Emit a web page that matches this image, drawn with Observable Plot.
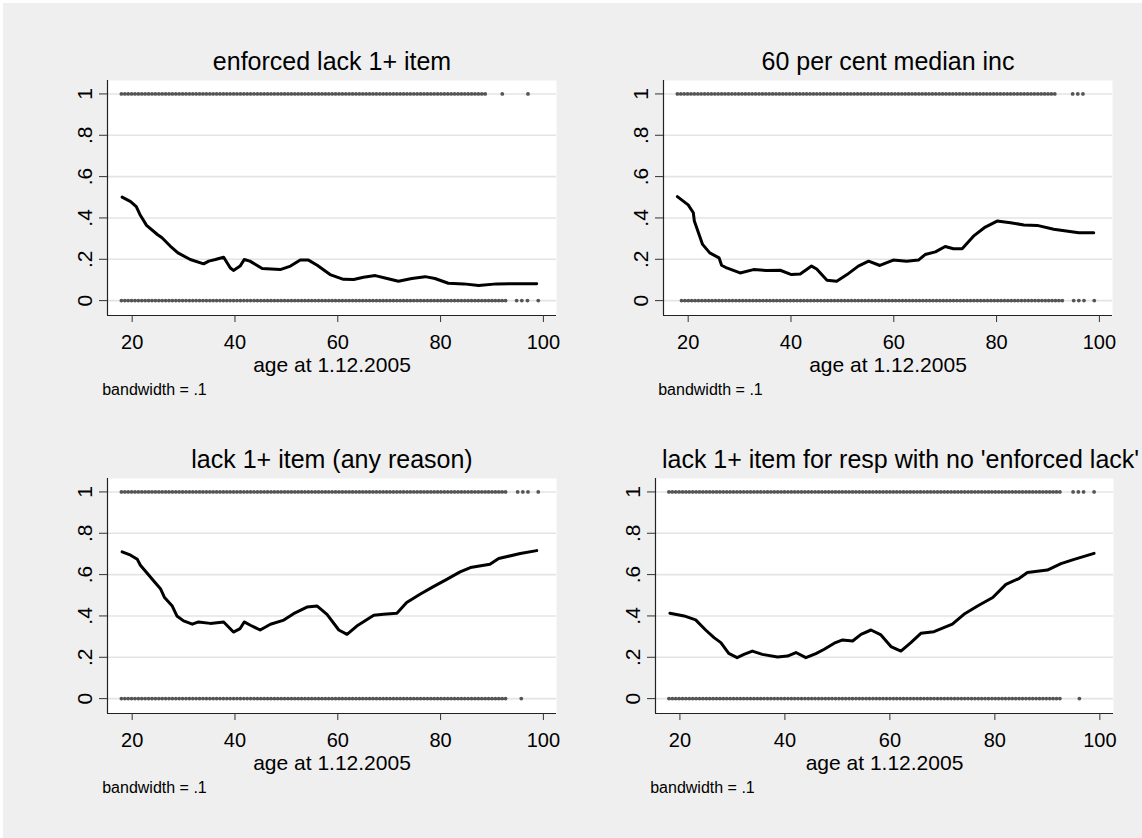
<!DOCTYPE html>
<html><head><meta charset="utf-8">
<script src="https://cdn.jsdelivr.net/npm/d3@7"></script>
<script src="https://cdn.jsdelivr.net/npm/@observablehq/plot@0.6"></script>
<style>
html,body{margin:0;padding:0;background:#fff;width:1142px;height:838px;overflow:hidden;}
#bg{position:absolute;left:3px;top:3px;width:1139px;height:835px;background:#efefef;}
.panel{position:absolute;}
.panel svg{overflow:visible;}
</style></head><body><div id="bg"></div><div id="root"></div>
<script>
// ---- shared axis data ----
const ageTicks = [20, 40, 60, 80, 100];
const probTicks = [0, 0.2, 0.4, 0.6, 0.8, 1];
const probTickLabels = ["0", ".2", ".4", ".6", ".8", "1"];
const xLabel = "age at 1.12.2005";
const noteText = "bandwidth = .1";
const titles = [
  "enforced lack 1+ item",
  "60 per cent median inc",
  "lack 1+ item (any reason)",
  "lack 1+ item for resp with no 'enforced lack'"
];

// ---- lowess curves (age, smoothed share) ----
const enforcedAge = [18.05,19.7,20.8,21.5,22.8,24.9,25.8,27.4,28.9,31.3,33.9,34.9,36.2,37.8,39.1,39.7,41.0,41.8,42.9,44.0,45.3,48.8,50.8,52.7,54.3,56.0,58.5,61.1,63.1,65.0,67.3,69.6,71.8,74.4,77.0,78.9,81.5,84.5,87.4,90.9,98.7];
const enforcedVal = [.501,.479,.455,.417,.364,.320,.304,.264,.231,.199,.178,.191,.199,.210,.158,.146,.167,.199,.191,.175,.155,.150,.167,.197,.196,.171,.126,.103,.102,.113,.121,.107,.094,.107,.116,.107,.084,.081,.073,.081,.082];

const incomeAge = [17.9,20.0,21.0,21.2,22.8,24.2,26.0,26.5,27.5,30.1,32.7,35.3,37.9,40.1,41.8,44.0,45.0,47.0,48.9,50.9,53.1,55.1,57.3,59.9,62.5,64.8,66.1,68.1,70.0,71.6,73.3,75.5,77.8,80.1,82.7,85.3,87.9,91.1,96.0,98.9];
const incomeVal = [.503,.463,.425,.385,.272,.231,.207,.171,.158,.134,.150,.146,.147,.126,.129,.167,.153,.099,.094,.126,.167,.191,.170,.196,.191,.196,.223,.236,.262,.251,.251,.312,.356,.385,.377,.366,.364,.345,.328,.328];

const anyAge = [18.05,19.7,21.0,21.6,22.8,24.2,25.5,26.3,27.8,28.7,30.0,31.7,32.9,35.2,37.8,39.7,41.0,41.8,43.0,44.9,46.9,49.5,51.4,54.0,56.0,57.9,60.2,61.8,63.7,67.0,68.9,71.5,73.4,76.0,78.6,81.2,83.8,85.8,89.6,91.3,95.5,98.7];
const anyVal = [.710,.694,.674,.645,.610,.569,.532,.489,.448,.400,.376,.360,.371,.364,.371,.322,.339,.371,.355,.332,.360,.380,.411,.443,.448,.408,.332,.311,.351,.403,.408,.413,.465,.505,.542,.577,.613,.634,.650,.678,.702,.716];

const noEnfAge = [18.1,20.8,23.0,24.9,26.5,27.8,29.3,30.9,32.2,33.8,35.7,38.6,40.5,42.1,44.0,45.9,47.5,49.4,51.0,52.9,54.5,56.4,58.3,60.2,62.1,64.0,65.9,68.4,71.9,74.1,76.7,79.6,82.1,84.6,86.2,90.0,92.6,95.1,98.9];
const noEnfVal = [.413,.400,.381,.332,.295,.271,.219,.198,.214,.230,.214,.201,.206,.223,.198,.218,.239,.268,.284,.279,.311,.332,.308,.252,.230,.271,.316,.324,.360,.408,.448,.489,.553,.581,.610,.622,.653,.674,.703];

// ---- observed respondents (outcome 0/1): dense age runs and isolated ages ----
// runs: [outcome, first age, last age]
const enforcedRuns = [[1, 18, 89], [0, 18, 93]];
const enforcedOnesIsolated = [92, 97];
const enforcedZerosIsolated = [94.8, 95.8, 96.9, 99];

const incomeRuns = [[1, 18, 92], [0, 18.8, 93]];
const incomeOnesIsolated = [94.8, 95.8, 96.8];
const incomeZerosIsolated = [95, 96, 97, 99];

const anyRuns = [[1, 18, 93], [0, 18, 93]];
const anyOnesIsolated = [95, 96, 97, 99];
const anyZerosIsolated = [95.7];

const noEnfRuns = [[1, 18, 93], [0, 18, 93]];
const noEnfOnesIsolated = [94.9, 95.9, 96.9, 98.9];
const noEnfZerosIsolated = [96.1];

// ---- panel layout ----
const panels = [
  {title: titles[0], age: enforcedAge, val: enforcedVal, runs: enforcedRuns, ones: enforcedOnesIsolated, zeros: enforcedZerosIsolated,
   left: 0, top: 0, frameW: 449, xDomain: [15.2, 102.55], titleDx: 0},
  {title: titles[1], age: incomeAge, val: incomeVal, runs: incomeRuns, ones: incomeOnesIsolated, zeros: incomeZerosIsolated,
   left: 556, top: 0, frameW: 449, xDomain: [15.2, 102.55], titleDx: 0},
  {title: titles[2], age: anyAge, val: anyVal, runs: anyRuns, ones: anyOnesIsolated, zeros: anyZerosIsolated,
   left: 0, top: 398, frameW: 449, xDomain: [15.2, 102.55], titleDx: 0},
  {title: titles[3], age: noEnfAge, val: noEnfVal, runs: noEnfRuns, ones: noEnfOnesIsolated, zeros: noEnfZerosIsolated,
   left: 548, top: 398, frameW: 458, xDomain: [15.35, 102.6], titleDx: 16}
];

const yDomain = [-0.072, 1.065];
const font = "'Liberation Sans', Arial, Helvetica, sans-serif";
const root = document.getElementById("root");

for (const p of panels) {
  const curve = p.age.map((a, i) => ({age: a, share: p.val[i]}));
  const runs = p.runs.map(([y, from, to]) => ({y, from, to}));
  const isolated = [
    ...p.ones.map(a => ({age: a, y: 1})),
    ...p.zeros.map(a => ({age: a, y: 0}))
  ];
  const mL = 107, mT = 80, frameH = 235, W = 571, H = 420;
  const chart = Plot.plot({
    width: W, height: H,
    marginLeft: mL, marginRight: W - mL - p.frameW, marginTop: mT, marginBottom: H - mT - frameH,
    x: {domain: p.xDomain},
    y: {domain: yDomain},
    style: {fontFamily: font, color: "black", background: "transparent", overflow: "visible"},
    marks: [
      Plot.frame({fill: "white", stroke: null}),
      Plot.gridY(probTicks, {stroke: "#e4e4e4", strokeOpacity: 1, strokeWidth: 1.6}),
      Plot.ruleY(runs, {y: "y", x1: "from", x2: "to", stroke: "#555", strokeWidth: 3.8, strokeLinecap: "round", strokeDasharray: "0 3.4"}),
      Plot.dot(isolated, {x: "age", y: "y", r: 1.9, fill: "#555", stroke: null}),
      Plot.line(curve, {x: "age", y: "share", stroke: "black", strokeWidth: 3, strokeLinejoin: "round", strokeLinecap: "round"}),
      Plot.ruleX([p.xDomain[0]], {stroke: "#222", strokeWidth: 1.2}),
      Plot.ruleY([yDomain[0]], {stroke: "#222", strokeWidth: 1.2}),
      Plot.axisX({ticks: ageTicks, tickSize: 7, tickPadding: 12, fontSize: 20, label: null, stroke: "#333", tickFormat: d => String(d)}),
      Plot.axisY({ticks: probTicks, tickSize: 8, label: null, stroke: "#333", tickFormat: () => ""}),
      Plot.text(probTicks, {y: d => d, text: (d, i) => probTickLabels[i], frameAnchor: "left", dx: -22, rotate: -90,
        fontSize: 21, textAnchor: "middle", lineAnchor: "middle", fill: "black"}),
      Plot.text([p.title], {frameAnchor: "top", dy: -11, dx: p.titleDx, lineAnchor: "bottom", fontSize: 25, fill: "black"}),
      Plot.text([xLabel], {frameAnchor: "bottom", dy: 56, lineAnchor: "bottom", fontSize: 21, fill: "black"}),
      Plot.text([noteText], {frameAnchor: "bottom-left", dx: -5.3, dy: 79, lineAnchor: "bottom", textAnchor: "start", fontSize: 16, fill: "black"})
    ]
  });
  const wrap = document.createElement("div");
  wrap.className = "panel";
  wrap.style.left = p.left + "px";
  wrap.style.top = p.top + "px";
  wrap.appendChild(chart);
  root.appendChild(wrap);
}
</script></body></html>
